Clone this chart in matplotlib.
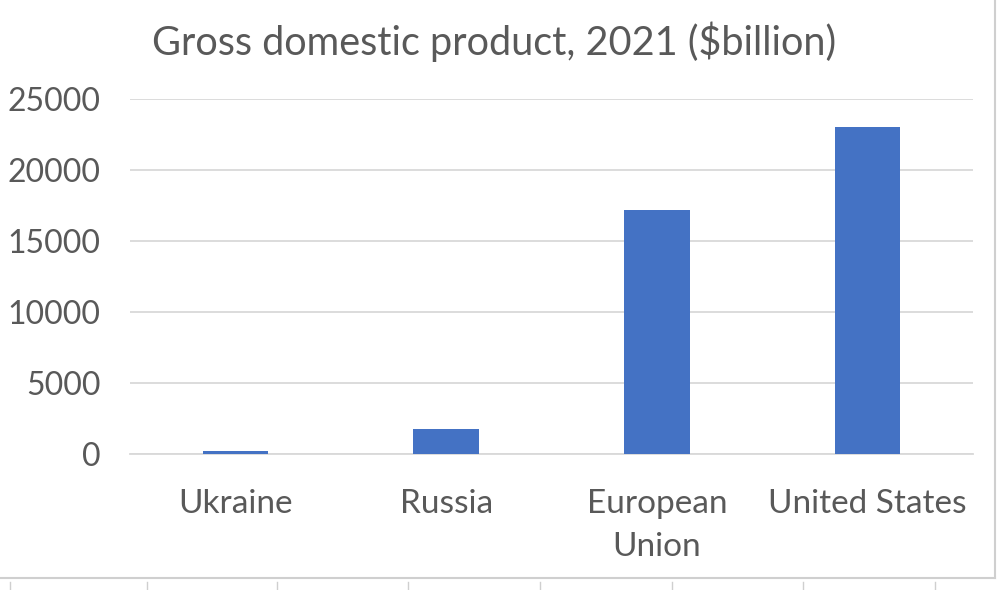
import matplotlib
matplotlib.use("Agg")
import matplotlib.pyplot as plt
from matplotlib.lines import Line2D

countries = ["Ukraine", "Russia", "European\nUnion", "United States"]
gdp = [200, 1776, 17178, 22996]
yticks = [0, 5000, 10000, 15000, 20000, 25000]

plt.rcParams['font.family'] = ['Lato', 'DejaVu Sans']
text_color = '#595959'
grid_color = '#d9d9d9'

fig = plt.figure(figsize=(9.98, 5.90), dpi=100)
ax = fig.add_axes([130 / 998, 1 - 454 / 590, 843 / 998, 355 / 590])

ax.bar(range(len(countries)), gdp, width=0.31, color='#4472c4', zorder=3)
ax.set_xlim(-0.5, len(countries) - 0.5)
ax.set_ylim(0, 25000)
ax.set_yticks(yticks)
ax.set_yticklabels([str(v) for v in yticks], fontsize=23)
ax.set_xticks(range(len(countries)))
ax.set_xticklabels(countries, fontsize=24, linespacing=1.55)

ax.grid(axis='y', color=grid_color, linewidth=1.3, zorder=0)
for side in ['top', 'right', 'left']:
    ax.spines[side].set_visible(False)
ax.spines['bottom'].set_color(grid_color)
ax.spines['bottom'].set_linewidth(1.3)
ax.tick_params(axis='both', length=0, colors=text_color)
ax.tick_params(axis='y', pad=21)
ax.tick_params(axis='x', pad=25)

fig.text(494 / 998, 1 - 42 / 590, "Gross domestic product, 2021 ($billion)",
         ha='center', va='center', fontsize=28.5, color=text_color)

# spreadsheet cell borders around the chart
fig.add_artist(Line2D([0, 995 / 998], [1 - 578 / 590] * 2, color='#cfcfcf', lw=1.5))
fig.add_artist(Line2D([995 / 998] * 2, [1 - 578 / 590, 1], color='#cfcfcf', lw=1.5))
for x in [10, 147, 277, 408, 540, 672, 803, 935]:
    fig.add_artist(Line2D([x / 998] * 2, [0, 1 - 582 / 590], color='#cfcfcf', lw=1))

fig.savefig("out.png", dpi=100)
